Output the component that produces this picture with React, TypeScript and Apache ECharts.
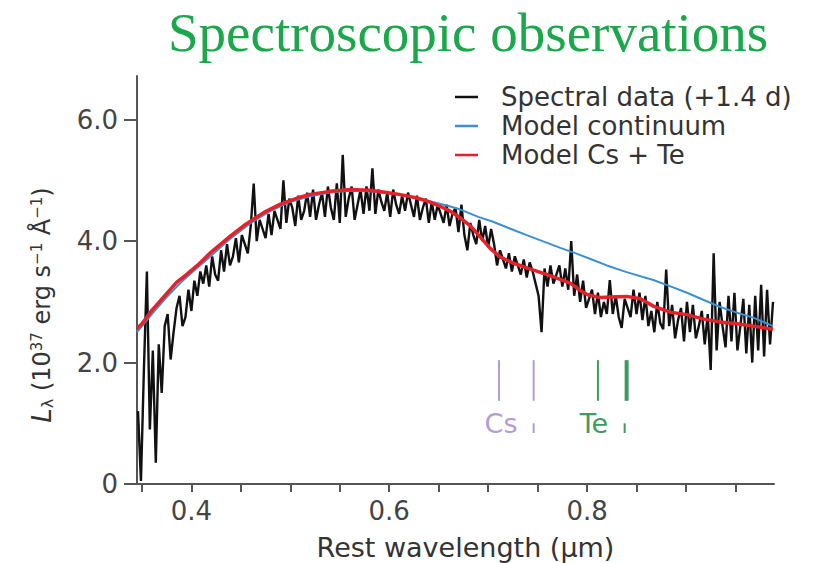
import { useEffect, useRef } from "react";
import * as echarts from "echarts";

// Spectral data (+1.4 d): flux on a uniform wavelength grid
const SPEC_START = 0.346;
const SPEC_STEP = 0.003;
const spectralFlux = [
  1.2, 0.05, 1.9, 3.5, 0.9, 2.2, 0.35, 2.3, 1.5, 2.6,
  2.8, 2.05, 2.5, 2.9, 3.1, 2.6, 2.75, 3.2, 2.85, 3.35,
  3.1, 3.5, 3.3, 3.6, 3.25, 3.75, 3.45, 3.35, 3.85, 3.5,
  3.95, 3.6, 3.75, 4.05, 3.65, 4.1, 3.95, 3.8, 4.25, 4.95,
  4.0, 4.35, 4.2, 4.05, 4.45, 4.1, 4.5, 4.35, 4.2, 5.0,
  4.3, 4.7, 4.55, 4.25, 4.75, 4.35, 4.5, 4.8, 4.4, 4.85,
  4.35, 4.6, 4.8, 4.4, 4.9, 4.55, 4.35, 4.95, 4.3, 5.42,
  4.4, 4.7, 4.9, 4.35, 4.6, 4.85, 4.45, 4.9, 4.5, 5.2,
  4.45, 4.85, 4.65, 4.5, 4.8, 4.4, 4.85, 4.6, 4.45, 4.75,
  4.5, 4.8, 4.6, 4.4, 4.75, 4.35, 4.55, 4.7, 4.3, 4.65,
  4.35, 4.6, 4.45, 4.3, 4.6, 4.25, 4.45, 4.55, 4.15, 4.6,
  4.1, 3.85, 4.3, 4.1, 3.95, 4.35, 4.0, 4.25, 3.9, 4.2,
  3.95, 3.6, 3.85, 3.7, 3.55, 3.8, 3.5, 3.75, 3.6, 3.45,
  3.7, 3.4, 3.65, 3.5, 3.3, 3.1, 2.5, 3.55, 3.25, 3.6,
  3.3, 3.45, 3.6, 3.25, 3.55, 3.2, 4.0, 3.1, 3.45, 3.0,
  3.35, 2.9, 3.05, 3.2, 2.8, 3.15, 2.75, 3.0, 2.8, 3.36,
  2.8, 3.1, 2.75, 2.57, 3.05, 2.9, 2.75, 3.2, 2.8, 3.15,
  2.7, 3.1, 2.6, 2.85, 2.5, 3.0, 2.65, 2.55, 3.53, 2.6,
  2.95, 2.4, 2.7, 2.9, 2.35, 3.0, 2.5, 2.95, 2.4, 2.6,
  2.85, 2.3, 2.8, 1.88, 3.8, 2.2, 3.0, 2.6, 2.25, 3.1,
  2.35, 3.15, 2.2, 2.6, 3.05, 2.15, 2.95, 2.0, 3.1, 2.2,
  3.28, 2.1, 3.2, 2.3, 3.0,
];

// Model continuum
const continuumWave = [
  0.345, 0.36, 0.375, 0.39, 0.405, 0.42, 0.44, 0.46, 0.48, 0.5,
  0.52, 0.54, 0.56, 0.58, 0.6, 0.62, 0.64, 0.66, 0.672, 0.69,
  0.705, 0.72, 0.739, 0.755, 0.773, 0.79, 0.806, 0.82, 0.84, 0.867,
  0.885, 0.901, 0.918, 0.934, 0.95, 0.968, 0.988,
];
const continuumFlux = [
  2.5, 2.8, 3.08, 3.33, 3.55, 3.76, 4.05, 4.3, 4.5, 4.65,
  4.74, 4.8, 4.83, 4.82, 4.79, 4.74, 4.66, 4.58, 4.52, 4.4,
  4.32, 4.22, 4.1, 4.0, 3.89, 3.79, 3.69, 3.6, 3.49, 3.36,
  3.25, 3.15, 3.03, 2.92, 2.83, 2.74, 2.6,
];

// Model Cs + Te
const modelWave = [
  0.345, 0.35, 0.36, 0.372, 0.385, 0.395, 0.406, 0.42, 0.439, 0.455,
  0.473, 0.49, 0.507, 0.52, 0.54, 0.561, 0.58, 0.594, 0.61, 0.628,
  0.64, 0.652, 0.662, 0.672, 0.682, 0.692, 0.702, 0.712, 0.725, 0.739,
  0.752, 0.766, 0.783, 0.792, 0.8, 0.813, 0.825, 0.84, 0.854, 0.867,
  0.884, 0.901, 0.917, 0.934, 0.952, 0.968, 0.988,
];
const modelFlux = [
  2.56, 2.64, 2.86, 3.08, 3.32, 3.45, 3.6, 3.82, 4.08, 4.28,
  4.47, 4.61, 4.71, 4.77, 4.82, 4.85, 4.84, 4.81, 4.77, 4.71,
  4.65, 4.57, 4.49, 4.38, 4.25, 4.07, 3.88, 3.74, 3.64, 3.56,
  3.49, 3.41, 3.31, 3.2, 3.12, 3.07, 3.08, 3.09, 3.05, 2.93,
  2.83, 2.79, 2.72, 2.67, 2.64, 2.6, 2.55,
];

// Line identifications
const csLines = [0.711, 0.746];
const teLines = [0.811, 0.84];
const lineSpan = [1.37, 2.04];
const weakMarks = [0.746, 0.838];
const weakSpan = [0.84, 1.0];
const elementNames = ["Cs", "Te"];
const elementLabelPos = [
  [0.713, 0.99],
  [0.807, 0.99],
];

const yTicks = [0, 2, 4, 6];
const xTicks = [0.35, 0.4, 0.45, 0.5, 0.55, 0.6, 0.65, 0.7, 0.75, 0.8, 0.85, 0.9, 0.95];
const xLabels = [0.4, 0.6, 0.8];

const SANS = "DejaVu Sans";
const CS_COLOR = "#b39cd8";
const TE_COLOR = "#3f9a5f";

export default function App() {
  const ref = useRef<HTMLDivElement>(null);

  useEffect(() => {
    if (!ref.current) return;
    const chart = echarts.init(ref.current, null, { renderer: "svg" });

    const spectrum = spectralFlux.map((f, i) => [
      +(SPEC_START + i * SPEC_STEP).toFixed(3),
      f,
    ]);
    const continuum = continuumWave.map((w, i) => [w, continuumFlux[i]]);
    const model = modelWave.map((w, i) => [w, modelFlux[i]]);

    const tickSeries = (name: string, waves: number[], color: string, thickIdx: number) => ({
      name,
      type: "custom",
      silent: true,
      data: waves.map((w) => [w, lineSpan[0], lineSpan[1]]),
      renderItem: (params: any, api: any) => {
        const x = api.value(0);
        const p0 = api.coord([x, api.value(1)]);
        const p1 = api.coord([x, api.value(2)]);
        return {
          type: "line",
          shape: { x1: p0[0], y1: p0[1], x2: p1[0], y2: p1[1] },
          style: { stroke: color, lineWidth: params.dataIndex === thickIdx ? 4 : 2 },
        };
      },
      z: 5,
    });

    const weakSeries = {
      name: "weak",
      type: "custom",
      silent: true,
      data: weakMarks.map((w) => [w, weakSpan[0], weakSpan[1]]),
      renderItem: (params: any, api: any) => {
        const x = api.value(0);
        const p0 = api.coord([x, api.value(1)]);
        const p1 = api.coord([x, api.value(2)]);
        return {
          type: "line",
          shape: { x1: p0[0], y1: p0[1], x2: p1[0], y2: p1[1] },
          style: { stroke: params.dataIndex === 0 ? CS_COLOR : TE_COLOR, lineWidth: 2 },
        };
      },
    };

    const labelSeries = {
      name: "elements",
      type: "custom",
      silent: true,
      data: elementLabelPos,
      renderItem: (params: any, api: any) => {
        const p = api.coord([api.value(0), api.value(1)]);
        return {
          type: "text",
          x: p[0],
          y: p[1],
          style: {
            text: elementNames[params.dataIndex],
            fill: params.dataIndex === 0 ? CS_COLOR : TE_COLOR,
            fontFamily: SANS,
            fontSize: 27,
            align: "center",
            verticalAlign: "middle",
          },
        };
      },
    };

    chart.setOption({
      animation: false,
      backgroundColor: "#ffffff",
      title: {
        text: "Spectroscopic observations",
        left: 163,
        top: 0,
        textStyle: {
          fontFamily: "Liberation Serif",
          fontWeight: "normal",
          fontSize: 55,
          color: "#1ba84b",
        },
      },
      legend: {
        orient: "vertical",
        left: 450,
        top: 79,
        itemWidth: 23,
        itemHeight: 2.5,
        itemGap: 3,
        data: [
          { name: "Spectral data (+1.4 d)", icon: "rect" },
          { name: "Model continuum", icon: "rect" },
          { name: "Model Cs + Te", icon: "rect" },
        ],
        textStyle: {
          fontFamily: SANS,
          fontSize: 26,
          color: "#333",
          padding: [0, 0, 0, 18],
        },
      },
      grid: {
        left: 137,
        right: 49,
        top: 76,
        bottom: 79,
        containLabel: false,
        outerBoundsMode: "none",
      },
      xAxis: {
        type: "value",
        min: 0.345,
        max: 0.989,
        name: "Rest wavelength (µm)",
        nameLocation: "middle",
        nameGap: 50,
        nameTextStyle: { fontFamily: SANS, fontSize: 27, color: "#333", padding: [0, 0, 0, 20] },
        axisLine: { show: true, lineStyle: { color: "#555", width: 2 } },
        axisTick: {
          show: true,
          length: 8,
          customValues: xTicks,
          lineStyle: { color: "#555", width: 2 },
        },
        axisLabel: {
          customValues: xLabels,
          formatter: (v: number) => v.toFixed(1),
          fontFamily: SANS,
          fontSize: 26,
          color: "#444",
          margin: 14,
        },
        splitLine: { show: false },
      },
      yAxis: {
        type: "value",
        min: 0,
        max: 6.72,
        name: "{l|L}{sub|λ}{t| (10}{sup|37}{t| erg s}{sup|−1}{t| Å}{sup|−1}{t|)}",
        nameLocation: "middle",
        nameRotate: 90,
        nameGap: 82,
        nameTextStyle: {
          fontFamily: SANS,
          fontSize: 24,
          color: "#333",
          padding: [0, 50, 0, 0],
          rich: {
            l: { fontFamily: SANS, fontSize: 26, fontStyle: "italic", color: "#333" },
            sub: { fontFamily: SANS, fontSize: 16, color: "#333", verticalAlign: "bottom" },
            t: { fontFamily: SANS, fontSize: 24, color: "#333" },
            sup: { fontFamily: SANS, fontSize: 15, color: "#333", verticalAlign: "top" },
          },
        },
        axisLine: { show: true, lineStyle: { color: "#555", width: 2 } },
        axisTick: {
          show: true,
          length: 13,
          customValues: yTicks,
          lineStyle: { color: "#555", width: 2 },
        },
        axisLabel: {
          customValues: yTicks,
          formatter: (v: number) => (v === 0 ? "0" : v.toFixed(1)),
          fontFamily: SANS,
          fontSize: 26,
          color: "#444",
          margin: 19,
        },
        splitLine: { show: false },
      },
      series: [
        {
          name: "Spectral data (+1.4 d)",
          type: "line",
          data: spectrum,
          symbol: "none",
          lineStyle: { color: "#111111", width: 2.4 },
          itemStyle: { color: "#111111" },
          z: 2,
        },
        {
          name: "Model continuum",
          type: "line",
          data: continuum,
          symbol: "none",
          lineStyle: { color: "#3d8fd1", width: 2 },
          itemStyle: { color: "#3d8fd1" },
          z: 3,
        },
        {
          name: "Model Cs + Te",
          type: "line",
          data: model,
          symbol: "none",
          lineStyle: { color: "#e3222a", width: 3.5 },
          itemStyle: { color: "#e3222a" },
          z: 4,
        },
        tickSeries("Cs", csLines, CS_COLOR, -1),
        tickSeries("Te", teLines, TE_COLOR, 1),
        weakSeries,
        labelSeries,
      ],
    });

    return () => chart.dispose();
  }, []);

  return (
    <div
      ref={ref}
      style={{ position: "fixed", left: 0, top: 0, width: 823, height: 563 }}
    />
  );
}
